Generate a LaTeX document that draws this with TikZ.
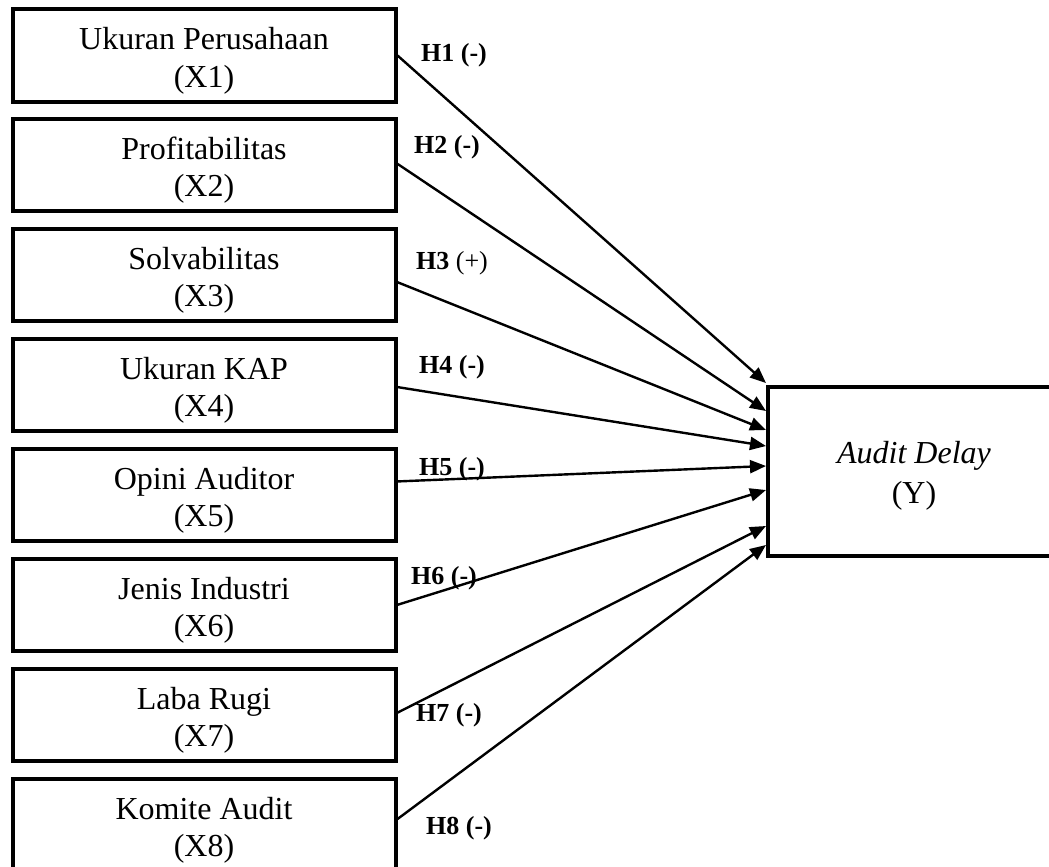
\documentclass[tikz,border=0pt]{standalone}
\usepackage{fontspec}
\setmainfont{Liberation Serif}
\usetikzlibrary{positioning,arrows.meta}

\begin{document}
\begin{tikzpicture}[x=1pt,y=-1pt,node distance=109.86pt,
                    var node/.style={rectangle,draw,line width=4pt,inner sep=0pt,
                      minimum width=383pt,minimum height=92pt,align=center,
                      text height=63pt,text depth=0pt,
                      font=\fontsize{32}{37}\selectfont},
                    hyp label/.style={font=\fontsize{26}{30}\selectfont\bfseries},
                    path arrow/.style={line width=2.4pt,-{Triangle[length=16pt,width=13pt]}}]

  \clip (0,0) rectangle (1049,867);

  \node[var node] (x1) at (204,55.5) {Ukuran Perusahaan\\(X1)};
  \node[var node] (x2) [below of=x1] {Profitabilitas\\(X2)};
  \node[var node] (x3) [below of=x2] {Solvabilitas\\(X3)};
  \node[var node] (x4) [below of=x3] {Ukuran KAP\\(X4)};
  \node[var node] (x5) [below of=x4] {Opini Auditor\\(X5)};
  \node[var node] (x6) [below of=x5] {Jenis Industri\\(X6)};
  \node[var node] (x7) [below of=x6] {Laba Rugi\\(X7)};
  \node[var node] (x8) [below of=x7] {Komite Audit\\(X8)};

  \node[var node,minimum width=292pt,minimum height=169pt,
        font=\fontsize{32}{40}\selectfont] (y) at (914,471.5) {\textit{Audit Delay}\\(Y)};

  \node[hyp label] (h1) at (454,55) {H1 (-)};
  \node[hyp label] (h2) at (447,147) {H2 (-)};
  \node[hyp label] (h3) at (452,263) {H3 \textmd{(+)}};
  \node[hyp label] (h4) at (452,367) {H4 (-)};
  \node[hyp label] (h5) at (452,469) {H5 (-)};
  \node[hyp label] (h6) at (444,578) {H6 (-)};
  \node[hyp label] (h7) at (449,715) {H7 (-)};
  \node[hyp label] (h8) at (459,828) {H8 (-)};

  \path[path arrow]
    (x1.east) edge ([yshift=2pt]y.north west)
    ([yshift=1.5pt]x2.east) edge ([yshift=-26pt]y.north west)
    ([yshift=-7pt]x3.east) edge ([yshift=-45pt]y.north west)
    ([yshift=-2pt]x4.east) edge ([yshift=-61pt]y.north west)
    ([yshift=13.5pt]x5.east) edge ([yshift=-81pt]y.north west)
    (x6.east) edge ([yshift=-105pt]y.north west)
    ([yshift=2pt]x7.east) edge ([yshift=-141pt]y.north west)
    ([yshift=5.5pt]x8.east) edge ([yshift=-160pt]y.north west);

\end{tikzpicture}
\end{document}
